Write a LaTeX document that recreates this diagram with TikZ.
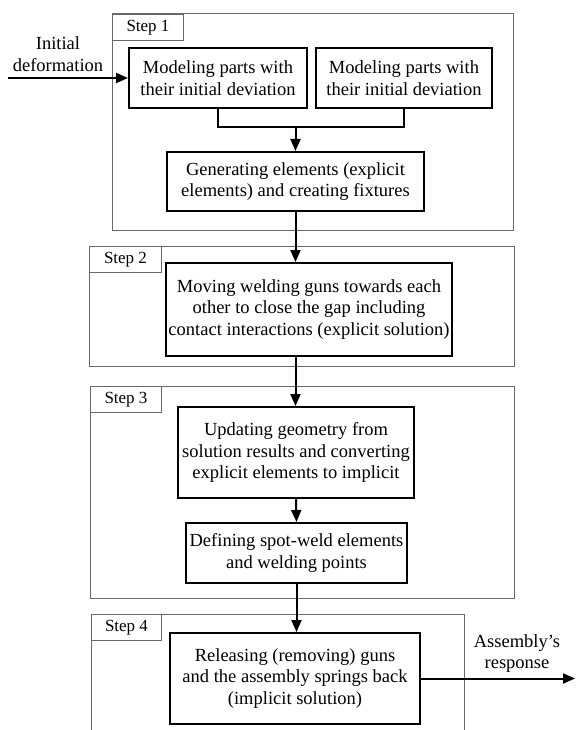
\documentclass[tikz,border=0pt]{standalone}
\usepackage{fontspec}
\setmainfont{Liberation Serif}
\usetikzlibrary{arrows.meta,positioning}
\definecolor{framegray}{RGB}{105,105,105}
\tikzstyle{process} = [draw, line width=2pt, align=center, inner sep=0pt, font=\fontsize{18.5}{21.5}\selectfont]
\tikzstyle{stepframe} = [draw=framegray, line width=1pt]
\tikzstyle{steplabel} = [draw=framegray, line width=1pt, inner sep=0pt, anchor=north west, minimum height=26pt, font=\fontsize{17}{20}\selectfont]
\tikzstyle{arrow} = [line width=2pt,->,>={Triangle[length=12pt,width=10pt]}]

\begin{document}
\begin{tikzpicture}[x=1pt, y=-1pt]
\useasboundingbox (0,0) rectangle (575,730);

% Step frames
\draw[stepframe] (112,14) rectangle (513,230);
\draw[stepframe] (89,246) rectangle (514,366);
\draw[stepframe] (90,386) rectangle (514,598);
\draw[stepframe] (91,760) -- (91,614) -- (464,614) -- (464,760);
\node[steplabel, minimum width=71pt] (lab1) at (112,14) {Step 1};
\node[steplabel, minimum width=72pt] (lab2) at (89,246) {Step 2};
\node[steplabel, minimum width=71pt] (lab3) at (90,386) {Step 3};
\node[steplabel, minimum width=70pt] (lab4) at (91,614) {Step 4};

% Step 1
\node[process, minimum width=178pt, minimum height=60pt] (partA) at (218,78) {Modeling parts with\\their initial deviation};
\node[process, minimum width=176pt, minimum height=60pt] (partB) at (404,78) {Modeling parts with\\their initial deviation};
\node[process, minimum width=257pt, minimum height=59pt] (mesh) at (295.5,181.5) {Generating elements (explicit\\elements) and creating fixtures};
\coordinate (join) at (295.5,127);
\draw[line width=1.3pt] (partA.south) |- (join) -| (partB.south);
\draw[arrow] (join) -- (mesh.north);

\node[align=center, font=\fontsize{18.5}{22}\selectfont] (init) at (58,54) {Initial\\deformation};
\coordinate (inStart) at (8,78);
\draw[arrow] (inStart) -- (partA.west);

% Step 2
\node[process, minimum width=286pt, minimum height=93pt] (close) at (309,309.5) {Moving welding guns towards each\\other to close the gap including\\contact interactions (explicit solution)};

% Step 3
\node[process, minimum width=236pt, minimum height=91pt] (update) at (296,452.5) {Updating geometry from\\solution results and converting\\explicit elements to implicit};
\node[process, minimum width=221pt, minimum height=60pt] (weld) at (296.5,553) {Defining spot-weld elements\\and welding points};

% Step 4
\node[process, minimum width=250pt, minimum height=91pt] (release) at (295,678.5) {Releasing (removing) guns\\and the assembly springs back\\(implicit solution)};
\node[align=center, font=\fontsize{18.5}{21}\selectfont] (resp) at (517,654) {Assembly’s\\response};
\coordinate (outEnd) at (575,678.5);

% Flow
\draw[arrow] (mesh.south) -- (mesh.south |- close.north);
\draw[arrow] (mesh.south |- close.south) -- (mesh.south |- update.north);
\draw[arrow] (update.south) -- (weld.north);
\draw[arrow] (weld.south) -- (weld.south |- release.north);
\draw[arrow] (release.east) -- (outEnd);
\end{tikzpicture}
\end{document}
